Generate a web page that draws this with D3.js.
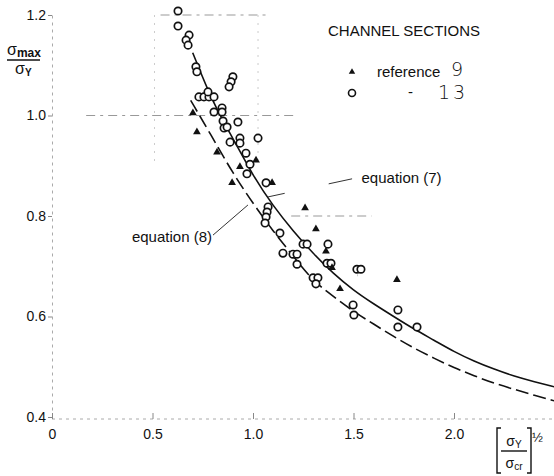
<!DOCTYPE html>
<html>
<head>
<meta charset="utf-8">
<script src="https://cdn.jsdelivr.net/npm/d3@7/dist/d3.min.js"></script>
<style>
  body { margin: 0; background: #fff; }
  svg { display: block; background: #fff; }
  text { font-family: 'Liberation Sans', Arial, sans-serif; fill: #111; }
</style>
</head>
<body>
<div class="chart"></div>
<script>
'use strict'
const d3 = window.d3

// reference 13 - open circles
const ref13X = [0.627, 0.627, 0.682, 0.667, 0.677, 0.716, 0.721, 0.900, 0.891, 0.881,
  0.731, 0.756, 0.781, 0.806, 0.776, 0.806, 0.846, 0.846, 0.851, 0.856,
  0.871, 0.925, 0.886, 0.935, 0.935, 1.025, 0.965, 0.985, 0.970, 1.065,
  1.075, 1.070, 1.065, 1.060, 1.134, 1.249, 1.269, 1.373, 1.149, 1.199,
  1.219, 1.219, 1.368, 1.388, 1.299, 1.323, 1.313, 1.517, 1.537, 1.498,
  1.502, 1.721, 1.721, 1.816]
const ref13Y = [1.208, 1.178, 1.160, 1.150, 1.140, 1.097, 1.087, 1.077, 1.067, 1.057,
  1.037, 1.037, 1.037, 1.037, 1.047, 1.007, 1.015, 1.007, 0.989, 0.975,
  0.977, 0.987, 0.947, 0.955, 0.945, 0.955, 0.925, 0.903, 0.884, 0.866,
  0.818, 0.808, 0.798, 0.786, 0.766, 0.744, 0.744, 0.744, 0.726, 0.724,
  0.724, 0.704, 0.706, 0.706, 0.677, 0.677, 0.665, 0.694, 0.694, 0.623,
  0.603, 0.613, 0.579, 0.579]

// reference 9 - filled triangles
const ref9X = [0.701, 0.721, 0.821, 0.935, 1.015, 0.896, 1.095, 1.259, 1.313, 1.363, 1.393, 1.433, 1.716]
const ref9Y = [1.005, 0.967, 0.927, 0.898, 0.911, 0.866, 0.866, 0.816, 0.774, 0.730, 0.697, 0.655, 0.673]

// equation (7) - solid curve
const eq7X = [0.70, 0.80, 0.90, 1.00, 1.10, 1.20, 1.30, 1.40, 1.50, 1.60, 1.70, 1.80, 1.90, 2.00, 2.10, 2.20, 2.30, 2.40, 2.50]
const eq7Y = [1.125, 1.025, 0.955, 0.880, 0.820, 0.770, 0.725, 0.685, 0.652, 0.625, 0.600, 0.575, 0.553, 0.530, 0.511, 0.495, 0.481, 0.470, 0.460]

// equation (8) - dashed curve
const eq8X = [0.69, 0.80, 0.90, 1.00, 1.10, 1.20, 1.30, 1.40, 1.50, 1.60, 1.70, 1.80, 1.90, 2.00, 2.10, 2.20, 2.30, 2.40, 2.50]
const eq8Y = [1.030, 0.955, 0.885, 0.825, 0.770, 0.720, 0.670, 0.640, 0.610, 0.585, 0.560, 0.537, 0.517, 0.498, 0.482, 0.467, 0.455, 0.443, 0.432]

const xTicks = [0, 0.5, 1.0, 1.5, 2.0]
const xTickLabels = ['0', '0.5', '1.0', '1.5', '2.0']
const yTicks = [0.4, 0.6, 0.8, 1.0, 1.2]
const yTickLabels = ['0.4', '0.6', '0.8', '1.0', '1.2']

// faint guide lines left on the original sheet
const hGuides = [[1.2, 0.54, 1.07], [1.0, 0.17, 1.22], [0.8, 1.19, 1.59]]
const vGuides = [[0.51, 1.2, 0.90], [1.025, 1.2, 0.90], [1.52, 0.70, 0.67]]

const width = 554
const height = 476

const x = d3.scaleLinear().domain([0, 2.5]).range([52, 554.5])
const y = d3.scaleLinear().domain([0.4, 1.2]).range([417, 15])

const svg = d3.select('.chart').append('svg')
    .attr('width', width)
    .attr('height', height)

// guide lines
svg.selectAll('.hguide')
    .data(hGuides)
  .enter().append('line')
    .attr('x1', d => x(d[1])).attr('x2', d => x(d[2]))
    .attr('y1', d => y(d[0])).attr('y2', d => y(d[0]))
    .attr('stroke', '#999').attr('stroke-width', 1)
    .attr('stroke-dasharray', '9,5,3,5')

svg.selectAll('.vguide')
    .data(vGuides)
  .enter().append('line')
    .attr('x1', d => x(d[0])).attr('x2', d => x(d[0]))
    .attr('y1', d => y(d[1])).attr('y2', d => y(d[2]))
    .attr('stroke', '#ccc').attr('stroke-width', 1)
    .attr('stroke-dasharray', '2,6')

// axes
const yAxis = svg.append('g')
    .attr('transform', 'translate(' + x(0) + ',0)')
    .call(d3.axisLeft(y).tickValues(yTicks)
      .tickFormat((d, i) => yTickLabels[i])
      .tickSizeInner(4).tickSizeOuter(0).tickPadding(2))

const xAxis = svg.append('g')
    .attr('transform', 'translate(0,' + (y(0.4) + 2) + ')')
    .call(d3.axisBottom(x).tickValues(xTicks)
      .tickFormat((d, i) => xTickLabels[i])
      .tickSizeInner(-6).tickSizeOuter(0).tickPadding(10))

for (const ax of [xAxis, yAxis]) {
  ax.select('.domain').attr('stroke', '#aaa').attr('stroke-dasharray', '3,4')
  ax.selectAll('.tick line').attr('stroke', '#888')
  ax.selectAll('.tick text')
      .style('font-family', "'Liberation Sans', Arial, sans-serif")
      .style('font-size', '14px')
      .attr('fill', '#111')
}
xAxis.select('.domain').attr('d', 'M' + x(0) + ',0H' + width)

// curves
const line = d3.line()
    .x(d => x(d[0]))
    .y(d => y(d[1]))
    .curve(d3.curveBasis)

svg.append('path')
    .datum(eq7X.map((v, i) => [v, eq7Y[i]]))
    .attr('d', line)
    .attr('fill', 'none')
    .attr('stroke', '#111')
    .attr('stroke-width', 1.6)

svg.append('path')
    .datum(eq8X.map((v, i) => [v, eq8Y[i]]))
    .attr('d', line)
    .attr('fill', 'none')
    .attr('stroke', '#111')
    .attr('stroke-width', 1.6)
    .attr('stroke-dasharray', '13,5')

// points
svg.selectAll('.c13')
    .data(ref13X.map((v, i) => [v, ref13Y[i]]))
  .enter().append('circle')
    .attr('cx', d => x(d[0]))
    .attr('cy', d => y(d[1]))
    .attr('r', 3.7)
    .attr('fill', '#fff')
    .attr('stroke', '#111')
    .attr('stroke-width', 1.7)

const tri = d3.symbol(d3.symbolTriangle).size(26)
svg.selectAll('.t9')
    .data(ref9X.map((v, i) => [v, ref9Y[i]]))
  .enter().append('path')
    .attr('d', tri)
    .attr('transform', d => 'translate(' + x(d[0]) + ',' + y(d[1]) + ')')
    .attr('fill', '#111')

// annotations
svg.append('path')
    .attr('d', 'M' + x(1.075) + ',' + y(0.838) + 'L' + x(1.493) + ',' + y(0.874))
    .attr('stroke', '#333').attr('stroke-width', 1)
    .attr('stroke-dasharray', '17,45,30')
svg.append('text')
    .attr('x', x(1.54)).attr('y', y(0.866))
    .style('font-size', '15px')
    .text('equation (7)')

svg.append('path')
    .attr('d', 'M' + x(0.801) + ',' + y(0.762) + 'L' + x(0.975) + ',' + y(0.822))
    .attr('stroke', '#333').attr('stroke-width', 1)
svg.append('text')
    .attr('x', x(0.796)).attr('y', y(0.748))
    .attr('text-anchor', 'end')
    .style('font-size', '15px')
    .text('equation (8)')

// legend
svg.append('text')
    .attr('x', 328).attr('y', 36)
    .style('font-size', '15px')
    .text('CHANNEL SECTIONS')

svg.append('path')
    .attr('d', d3.symbol(d3.symbolTriangle).size(18))
    .attr('transform', 'translate(352,72)')
    .attr('fill', '#111')
svg.append('text')
    .attr('x', 377).attr('y', 77)
    .style('font-size', '15px')
    .text('reference')
svg.append('text')
    .attr('x', 451).attr('y', 76)
    .style('font-family', "'DejaVu Sans', sans-serif")
    .style('font-weight', 200)
    .style('font-size', '19px')
    .text('9')

svg.append('circle')
    .attr('cx', 352).attr('cy', 93).attr('r', 3.5)
    .attr('fill', '#fff').attr('stroke', '#111').attr('stroke-width', 1.6)
svg.append('text')
    .attr('x', 408).attr('y', 97)
    .style('font-size', '15px')
    .text('-')
svg.append('text')
    .attr('x', 438).attr('y', 99)
    .style('font-family', "'DejaVu Sans', sans-serif")
    .style('font-weight', 200)
    .style('font-size', '19px')
    .attr('letter-spacing', '3px')
    .text('13')

// y title  sigma_max / sigma_Y
const yt = svg.append('g')
const ytNum = yt.append('text').attr('x', 7).attr('y', 55).style('font-size', '16px')
ytNum.append('tspan').text('σ')
ytNum.append('tspan').attr('dy', 2).style('font-size', '12px').style('font-weight', 'bold').text('max')
yt.append('line')
    .attr('x1', 7).attr('x2', 40).attr('y1', 60).attr('y2', 60)
    .attr('stroke', '#111').attr('stroke-width', 1.6)
const ytDen = yt.append('text').attr('x', 15).attr('y', 74).style('font-size', '16px')
ytDen.append('tspan').text('σ')
ytDen.append('tspan').attr('dy', 2).style('font-size', '10px').style('font-weight', 'bold').text('Y')

// x title  [sigma_Y / sigma_cr]^1/2
const xt = svg.append('g')
xt.append('path')
    .attr('d', 'M501,428H497V473H501M527,428H531V473H527')
    .attr('fill', 'none').attr('stroke', '#111').attr('stroke-width', 1.4)
const xtNum = xt.append('text').attr('x', 514).attr('y', 446)
    .attr('text-anchor', 'middle').style('font-size', '14px')
xtNum.append('tspan').text('σ')
xtNum.append('tspan').attr('dy', 2).style('font-size', '10px').text('Y')
xt.append('line')
    .attr('x1', 501).attr('x2', 527).attr('y1', 451).attr('y2', 451)
    .attr('stroke', '#111').attr('stroke-width', 1.4)
const xtDen = xt.append('text').attr('x', 514).attr('y', 468)
    .attr('text-anchor', 'middle').style('font-size', '14px')
xtDen.append('tspan').text('σ')
xtDen.append('tspan').attr('dy', 2).style('font-size', '10px').text('cr')
xt.append('text')
    .attr('x', 532).attr('y', 442)
    .style('font-size', '13px')
    .text('½')
</script>
</body>
</html>
